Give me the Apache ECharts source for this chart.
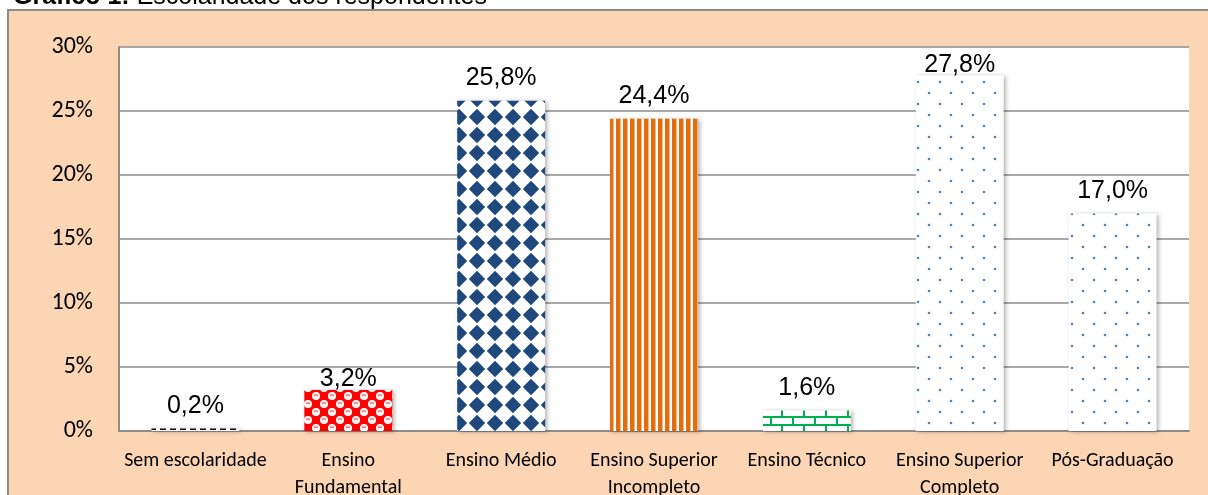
<!DOCTYPE html>
<html>
<head>
<meta charset="utf-8">
<script src="https://cdn.jsdelivr.net/npm/echarts@6/dist/echarts.min.js"></script>
<style>
  html, body { margin: 0; padding: 0; background: #fff; }
  #chart { width: 1208px; height: 495px; }
</style>
</head>
<body>
<div id="chart"></div>
<script>
// dados
const categories = ['Sem escolaridade', 'Ensino\nFundamental', 'Ensino Médio', 'Ensino Superior\nIncompleto',
  'Ensino Técnico', 'Ensino Superior\nCompleto', 'Pós-Graduação'];
const values = [0.2, 3.2, 25.8, 24.4, 1.6, 27.8, 17.0];
const yMin = 0, yMax = 30, yStep = 5;

// padrões de preenchimento (estilo Excel)
function tile(w, h, draw) {
  const c = document.createElement('canvas');
  c.width = w; c.height = h;
  const ctx = c.getContext('2d');
  ctx.fillStyle = '#fff';
  ctx.fillRect(0, 0, w, h);
  draw(ctx);
  return { image: c, repeat: 'repeat' };
}

const patterns = [
  tile(10, 4, ctx => { ctx.fillStyle = '#111'; ctx.fillRect(0, 0, 6, 2); }),
  tile(16, 16, ctx => {
    ctx.fillStyle = '#ff0000';
    ctx.fillRect(0, 0, 16, 16);
    ctx.fillStyle = '#fff';
    [[4, 4], [12, 12]].forEach(p => { ctx.beginPath(); ctx.arc(p[0], p[1], 4, 0, Math.PI * 2); ctx.fill(); });
    ctx.fillStyle = '#ff4040';
    [[4, 4], [12, 12]].forEach(p => ctx.fillRect(p[0] - 2, p[1] - 1.5, 4, 1.2));
  }),
  tile(18, 18, ctx => {
    ctx.fillStyle = '#1f497d';
    ctx.beginPath();
    ctx.moveTo(9, 0.8); ctx.lineTo(17.2, 9); ctx.lineTo(9, 17.2); ctx.lineTo(0.8, 9);
    ctx.closePath(); ctx.fill();
  }),
  tile(7, 4, ctx => { ctx.fillStyle = '#e46c0a'; ctx.fillRect(0, 0, 4.5, 4); }),
  tile(22, 16, ctx => {
    ctx.strokeStyle = '#00b050'; ctx.lineWidth = 2;
    ctx.beginPath();
    ctx.moveTo(0, 1); ctx.lineTo(22, 1);
    ctx.moveTo(0, 9); ctx.lineTo(22, 9);
    ctx.moveTo(1, 1); ctx.lineTo(1, 9);
    ctx.moveTo(12, 9); ctx.lineTo(12, 17);
    ctx.stroke();
  }),
  null, null
];
const dots = tile(22, 22, ctx => {
  ctx.fillStyle = '#4f81bd';
  [[5, 5], [16, 16]].forEach(p => { ctx.beginPath(); ctx.arc(p[0], p[1], 1.3, 0, Math.PI * 2); ctx.fill(); });
});
patterns[5] = dots;
patterns[6] = dots;

// distância do rótulo (alguns ficam sobrepostos como no original)
const labelDist = [10, -2, 10, 10, 10, -2, 10];

var chart = echarts.init(document.getElementById('chart'));
var option = {
  animation: false,
  graphic: [
    {
      type: 'rect',
      z: -10,
      shape: { x: 8, y: 10, width: 1230, height: 520 },
      style: { fill: '#fcd5b4', stroke: '#8c8c8c', lineWidth: 2 }
    },
    {
      type: 'text',
      z: 10,
      style: {
        x: 13, y: 10,
        text: '{b|Gráfico 1:} Escolaridade dos respondentes',
        font: '25px "Liberation Sans", Arial, sans-serif',
        fill: '#000',
        verticalAlign: 'bottom',
        rich: { b: { fontWeight: 'bold', fontSize: 25, fontFamily: '"Liberation Sans", Arial, sans-serif' } }
      }
    }
  ],
  grid: {
    left: 119, top: 47, right: 19, bottom: 64,
    outerBoundsMode: 'none',
    show: true, backgroundColor: '#fff', borderWidth: 0
  },
  xAxis: {
    type: 'category',
    data: categories,
    axisLine: { lineStyle: { color: '#8c8c8c', width: 2 } },
    axisTick: { show: false },
    axisLabel: {
      interval: 0, color: '#000', fontSize: 20, lineHeight: 27, margin: 16,
      fontFamily: 'Carlito, Lato, sans-serif'
    }
  },
  yAxis: {
    type: 'value',
    min: yMin, max: yMax, interval: yStep,
    axisLine: { show: true, lineStyle: { color: '#8c8c8c', width: 2 } },
    axisTick: { show: false },
    splitLine: { lineStyle: { color: '#8c8c8c', width: 1.5 } },
    axisLabel: {
      formatter: '{value}%', color: '#000', fontSize: 24, margin: 26,
      fontFamily: 'Carlito, Lato, sans-serif'
    }
  },
  series: [{
    type: 'bar',
    barWidth: '57.5%',
    data: values.map((v, i) => ({
      value: v,
      itemStyle: { color: patterns[i] },
      label: { distance: labelDist[i] }
    })),
    itemStyle: {
      shadowBlur: 4, shadowColor: 'rgba(0,0,0,0.3)', shadowOffsetX: 2, shadowOffsetY: 1
    },
    label: {
      show: true, position: 'top', color: '#000', fontSize: 25,
      fontFamily: '"Liberation Sans", Arial, sans-serif',
      formatter: p => p.value.toFixed(1).replace('.', ',') + '%'
    }
  }]
};
chart.setOption(option);
</script>
</body>
</html>
